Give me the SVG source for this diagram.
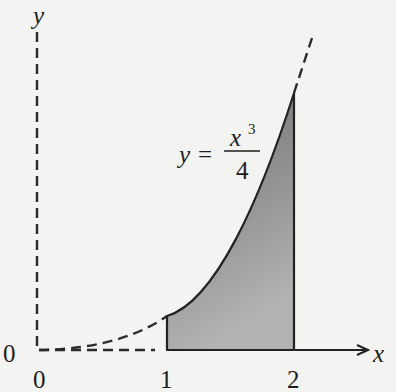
<svg xmlns="http://www.w3.org/2000/svg" width="396" height="392" viewBox="0 0 396 392">
<defs>
<linearGradient id="shade" x1="0" y1="0" x2="0.3" y2="1">
<stop offset="0" stop-color="#6e6e6e"/>
<stop offset="0.55" stop-color="#939393"/>
<stop offset="1" stop-color="#b3b3b3"/>
</linearGradient>
<marker id="arr" markerWidth="14" markerHeight="12" refX="12" refY="6" orient="auto" markerUnits="userSpaceOnUse">
<path d="M1,1 L12,6 L1,11" fill="none" stroke="#222" stroke-width="2"/>
</marker>
<style>
.dash{fill:none;stroke:#2a2a2a;stroke-width:2.4;stroke-dasharray:10 6}
.solid{fill:none;stroke:#222;stroke-width:2.2;stroke-linejoin:round}
.t{font-size:25px;fill:#1e1e1e}
.i{font-style:italic}
</style>
</defs>
<rect width="396" height="392" fill="#f3f3f1"/>
<g id="axes">
<path class="dash" d="M37,32 L37,350 L155,350"/>
<line class="solid" x1="295" y1="350" x2="368" y2="350" marker-end="url(#arr)"/>
</g>
<g id="region">
<path d="M167,350 L167,316 C215,302 260,200 294,93 L294,350 Z" fill="url(#shade)"/>
<path class="solid" d="M167,350 L167,316 C215,302 260,200 294,93 L294,350 Z"/>
</g>
<g id="connectors">
<path class="dash" d="M39,350 C100,349 140,335 167,316"/>
<path class="dash" d="M294,93 L312,38"/>
</g>
<g id="labels" font-family="Liberation Serif, DejaVu Serif, Times New Roman, serif">
<text class="t i" x="33" y="24">y</text>
<text class="t" x="3" y="362">0</text>
<text class="t" x="33" y="388">0</text>
<text class="t" x="160" y="388">1</text>
<text class="t" x="287" y="388">2</text>
<text class="t i" x="373" y="362">x</text>
<text class="t i" x="179" y="163">y</text>
<text class="t" x="198" y="163">=</text>
<text class="t i" x="230" y="146">x</text>
<text class="t" x="248" y="134" style="font-size:15px">3</text>
<line x1="224" y1="151" x2="260" y2="151" stroke="#1e1e1e" stroke-width="1.6"/>
<text class="t" x="236" y="179">4</text>
</g>
</svg>
